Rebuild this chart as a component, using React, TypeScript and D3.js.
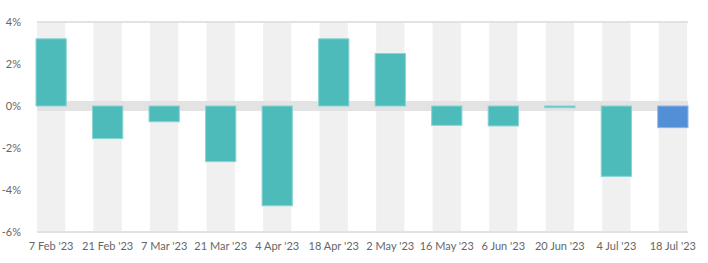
import React from 'react';
import * as d3 from 'd3';

const categories = ["7 Feb '23", "21 Feb '23", "7 Mar '23", "21 Mar '23", "4 Apr '23", "18 Apr '23", "2 May '23", "16 May '23", "6 Jun '23", "20 Jun '23", "4 Jul '23", "18 Jul '23"];
const values = [3.2, -1.55, -0.75, -2.65, -4.75, 3.2, 2.5, -0.92, -0.95, -0.08, -3.35, -1.03];
const yTicks = [4, 2, 0, -2, -4, -6];

const W = 708;
const H = 263;
const margin = { top: 22, right: 21, bottom: 31, left: 37 };

export default function App() {
  const x = d3.scaleBand<string>()
    .domain(categories)
    .range([margin.left, W - margin.right])
    .paddingInner(0.5)
    .paddingOuter(0);
  const y = d3.scaleLinear().domain([-6, 4]).range([H - margin.bottom, margin.top]);
  const bw = x.bandwidth();
  const font = 'Lato, "Open Sans", sans-serif';

  return (
    <svg width={W} height={H} style={{ position: 'absolute', left: 0, top: 0 }}>
      {/* column stripes */}
      {categories.map((c) => (
        <rect key={c} x={x(c)} y={y(4)} width={bw} height={y(-6) - y(4)} fill="#f0f0f0" />
      ))}
      {/* zero band */}
      <rect x={margin.left} y={y(0) - 5} width={W - margin.right - margin.left + 1} height={10} fill="#e3e3e3" />
      {/* top & bottom lines */}
      <rect x={margin.left} y={y(4) - 1} width={W - margin.right - margin.left + 1} height={2} fill="#e2e2e2" />
      <rect x={margin.left} y={y(-6) - 1} width={W - margin.right - margin.left + 1} height={2} fill="#e2e2e2" />
      {/* bars */}
      {categories.map((c, i) => {
        const v = values[i];
        const y0 = y(Math.max(0, v));
        const h = Math.max(1, Math.abs(y(v) - y(0)));
        const last = i === categories.length - 1;
        return (
          <rect
            key={c}
            x={(x(c) as number) - 1}
            y={y0}
            width={bw + 2}
            height={h}
            fill={last ? '#528fd6' : '#4ebbbb'}
            stroke={last ? '#8cb5e6' : '#8ad3d3'}
            strokeWidth={1}
          />
        );
      })}
      {/* y axis labels */}
      {yTicks.map((t) => (
        <text key={t} x={21} y={y(t)} dy="0.35em" textAnchor="end" fontFamily={font} fontSize={11} fill="#666">
          {`${t}%`}
        </text>
      ))}
      {/* x axis labels */}
      {categories.map((c) => (
        <text key={c} x={(x(c) as number) + bw / 2} y={246} dy="0.35em" textAnchor="middle" fontFamily={font} fontSize={11} fill="#666">
          {c}
        </text>
      ))}
    </svg>
  );
}
